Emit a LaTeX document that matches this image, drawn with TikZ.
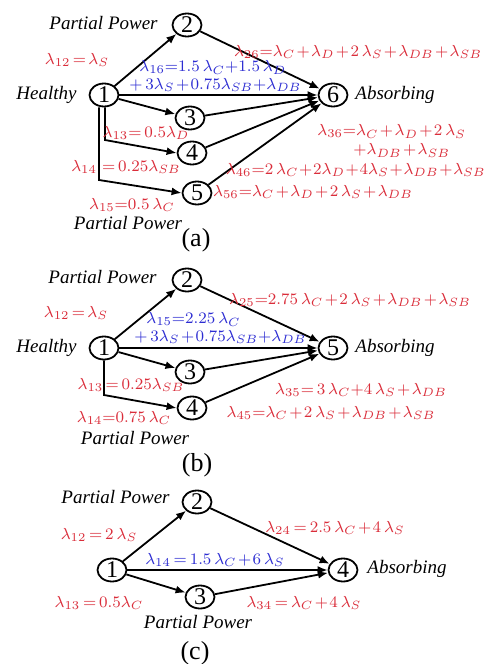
\documentclass[tikz,border=0pt]{standalone}
\usepackage{fontspec}
\setmainfont{Liberation Serif}
\usepackage{amsmath}
\usepackage{xcolor}
\usepackage{tikz}
\usetikzlibrary{shapes.geometric, arrows.meta, positioning}
\definecolor{ratered}{RGB}{218,45,58}
\definecolor{rateblue}{RGB}{45,45,210}
\newcommand{\tightmath}{\medmuskip=1.5mu\relax\thickmuskip=2.5mu\relax}
\newcommand{\tightermath}{\medmuskip=0.8mu\relax\thickmuskip=2mu\relax}
\tikzset{
  state/.style = {ellipse, draw=black, line width=0.9pt, minimum width=14.5pt,
                  minimum height=11.5pt, inner sep=0pt, font=\fontsize{12}{12}\selectfont},
  arr/.style   = {-{Latex[length=5pt,width=4pt]}, line width=0.9pt, draw=black},
  rate/.style  = {text=ratered, font=\fontsize{8.3}{9.5}\selectfont\tightmath, inner sep=1pt},
  rateb/.style = {text=rateblue, font=\fontsize{8.3}{8.8}\selectfont\tightmath, align=left, inner sep=1pt},
  tag/.style   = {font=\fontsize{9.5}{11}\selectfont\itshape, inner sep=1pt},
  panel/.style = {font=\fontsize{13}{14}\selectfont, inner sep=1pt}
}

\begin{document}
\begin{tikzpicture}[x=0.5pt, y=-0.5pt]
  \useasboundingbox (0,0) rectangle (491,664);

  % ---------- (a) ----------
  \node[state] (a1) at (104,95)  {1};
  \node[state] (a2) at (187,25)  {2};
  \node[state] (a3) at (190,118) {3};
  \node[state] (a4) at (192,153) {4};
  \node[state] (a5) at (197,193) {5};
  \node[state] (a6) at (333,95)  {6};
  \coordinate (a4k) at (105,140);
  \coordinate (a5k) at (99,180);

  \node[tag, anchor=east] (ppa) at (160,23) {Partial Power};
  \node[tag, anchor=east] (ha)  at (79,95)  {Healthy};
  \node[tag, anchor=west] (aba) at (353,95) {Absorbing};
  \node[tag] (ppa5) at (128,223) {Partial Power};

  \draw[arr] (a1)--(a2);
  \draw[arr] (a1)--(a6);
  \draw[arr] (a1)--(a3);
  \draw[arr] (a1.south -| a4k)--(a4k)--(a4.west);
  \draw[arr] (a1.south -| a5k)--(a5k)--(a5.west);
  \draw[arr] (a2)--(a6);
  \draw[arr] (a3)--(a6);
  \draw[arr] (a4)--(a6);
  \draw[arr] (a5)--(a6);

  \node[rate] (ra12) at (77,60) {$\lambda_{12}=\lambda_{S}$};
  \node[rateb, anchor=west] (ra16) at (127,76)
    {\hspace*{5pt}$\lambda_{16}{=}1.5\,\lambda_{C}{+}1.5\,\lambda_{D}$\\
     $+\,3\lambda_{S}+0.75\lambda_{SB}{+}\lambda_{DB}$};
  \node[rate] (ra26) at (358,52)
    {$\lambda_{26}{=}\lambda_{C}+\lambda_{D}+2\,\lambda_{S}+\lambda_{DB}+\lambda_{SB}$};
  \node[rate] (ra13) at (146,133) {$\lambda_{13}{=}\,0.5\lambda_{D}$};
  \node[rate] (ra14) at (126,167) {$\lambda_{14}\;\,{=}\,0.25\lambda_{SB}$};
  \node[rate] (ra15) at (132,205) {$\lambda_{15}{=}0.5\,\lambda_{C}$};
  \node[rate, align=left, anchor=west] (ra36) at (315,141)
    {$\lambda_{36}{=}\lambda_{C}+\lambda_{D}+2\,\lambda_{S}$\\
     \hspace*{18pt}$+\lambda_{DB}+\lambda_{SB}$};
  \node[rate, anchor=east, font=\fontsize{8}{9.5}\selectfont\tightermath]
    (ra46) at (488,170)
    {$\lambda_{46}{=}2\,\lambda_{C}+2\lambda_{D}+4\lambda_{S}+\lambda_{DB}+\lambda_{SB}$};
  \node[rate] (ra56) at (313,192)
    {$\lambda_{56}{=}\lambda_{C}+\lambda_{D}+2\,\lambda_{S}+\lambda_{DB}$};
  \node[panel] (capa) at (196,240) {(a)};

  % ---------- (b) ----------
  \node[state] (b1) at (104,348) {1};
  \node[state] (b2) at (187,280) {2};
  \node[state] (b3) at (190,372) {3};
  \node[state] (b4) at (192,408) {4};
  \node[state] (b5) at (333,348) {5};
  \coordinate (b4k) at (104,395);

  \node[tag, anchor=east] (ppb) at (159,277) {Partial Power};
  \node[tag, anchor=east] (hb)  at (79,348)  {Healthy};
  \node[tag, anchor=west] (abb) at (353,348) {Absorbing};
  \node[tag] (ppb4) at (135,438) {Partial Power};

  \draw[arr] (b1)--(b2);
  \draw[arr] (b1)--(b5);
  \draw[arr] (b1)--(b3);
  \draw[arr] (b1.south)--(b4k)--(b4.west);
  \draw[arr] (b2)--(b5);
  \draw[arr] (b3)--(b5);
  \draw[arr] (b4)--(b5);

  \node[rate] (rb12) at (76,313) {$\lambda_{12}=\lambda_{S}$};
  \node[rateb, anchor=west] (rb15) at (132,328)
    {\hspace*{6pt}$\lambda_{15}{=}2.25\,\lambda_{C}$\\
     $+\,3\lambda_{S}+0.75\lambda_{SB}{+}\lambda_{DB}$};
  \node[rate] (rb25) at (350,300)
    {$\lambda_{25}{=}2.75\,\lambda_{C}+2\,\lambda_{S}+\lambda_{DB}+\lambda_{SB}$};
  \node[rate] (rb13) at (131,385) {$\lambda_{13}\;{=}\,0.25\lambda_{SB}$};
  \node[rate] (rb14) at (124,418) {$\lambda_{14}{=}0.75\,\lambda_{C}$};
  \node[rate] (rb35) at (361,390) {$\lambda_{35}{=}\,3\,\lambda_{C}{+}4\,\lambda_{S}+\lambda_{DB}$};
  \node[rate] (rb45) at (331,413)
    {$\lambda_{45}{=}\lambda_{C}+2\,\lambda_{S}+\lambda_{DB}+\lambda_{SB}$};
  \node[panel] (capb) at (197,465) {(b)};

  % ---------- (c) ----------
  \node[state] (c1) at (112,570) {1};
  \node[state] (c2) at (197,502) {2};
  \node[state] (c3) at (200,597) {3};
  \node[state] (c4) at (343,570) {4};

  \node[tag, anchor=east] (ppc) at (172,497) {Partial Power};
  \node[tag, anchor=west] (abc) at (365,569) {Absorbing};
  \node[tag] (ppc3) at (198,622) {Partial Power};

  \draw[arr] (c1)--(c2);
  \draw[arr] (c1)--(c4);
  \draw[arr] (c1)--(c3);
  \draw[arr] (c2)--(c4);
  \draw[arr] (c3)--(c4);

  \node[rate] (rc12) at (99,535) {$\lambda_{12}\,{=}\,2\,\lambda_{S}$};
  \node[rate, text=rateblue] (rc14) at (215,560) {$\lambda_{14}\,{=}\,1.5\,\lambda_{C}+6\,\lambda_{S}$};
  \node[rate] (rc24) at (335,528) {$\lambda_{24}\,{=}\,2.5\,\lambda_{C}+4\,\lambda_{S}$};
  \node[rate] (rc13) at (99,603) {$\lambda_{13}\,{=}\,0.5\lambda_{C}$};
  \node[rate] (rc34) at (304,603) {$\lambda_{34}\,{=}\,\lambda_{C}+4\,\lambda_{S}$};
  \node[panel] (capc) at (195,653) {(c)};
\end{tikzpicture}
\end{document}
